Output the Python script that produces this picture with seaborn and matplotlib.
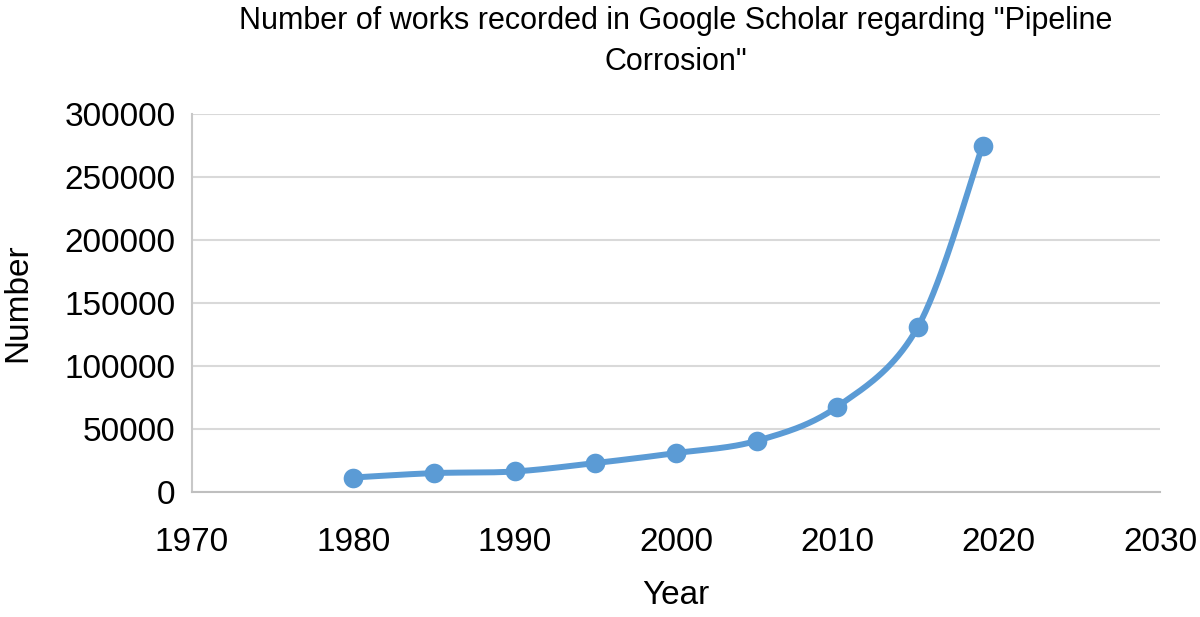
import numpy as np
import pandas as pd
import matplotlib
matplotlib.use("Agg")
import matplotlib.pyplot as plt
import seaborn as sns

years = [1980, 1985, 1990, 1995, 2000, 2005, 2010, 2015, 2019]
counts = [11500, 15000, 16300, 23000, 30900, 40600, 67700, 131200, 274600]
x_ticks = [1970, 1980, 1990, 2000, 2010, 2020, 2030]
y_ticks = [0, 50000, 100000, 150000, 200000, 250000, 300000]
title = 'Number of works recorded in Google Scholar regarding "Pipeline\nCorrosion"'

color = "#5B9BD5"

def smooth(xs, ys, n=40):
    # Excel-style smoothed line: cubic Bezier segments with Catmull-Rom tangents
    P = np.column_stack([xs, ys]).astype(float)
    ext = np.vstack([P[0], P, P[-1]])
    out = []
    t = np.linspace(0, 1, n)[:, None]
    for i in range(len(P) - 1):
        p0 = ext[i + 1]; p3 = ext[i + 2]
        c1 = p0 + (ext[i + 2] - ext[i]) / 6.0
        c2 = p3 - (ext[i + 3] - ext[i + 1]) / 6.0
        seg = (1 - t) ** 3 * p0 + 3 * (1 - t) ** 2 * t * c1 + 3 * (1 - t) * t ** 2 * c2 + t ** 3 * p3
        out.append(seg if i == 0 else seg[1:])
    S = np.vstack(out)
    return S[:, 0], S[:, 1]

sns.set_theme(style="white")
plt.rcParams['font.family'] = ['Liberation Sans', 'DejaVu Sans']
plt.rcParams['text.color'] = 'black'

fig = plt.figure(figsize=(12, 6.17), dpi=100)
ax = fig.add_axes([192 / 1200, 1 - 492 / 617, (1160 - 192) / 1200, (492 - 114) / 617])

sx, sy = smooth(years, counts)
df_line = pd.DataFrame({"Year": sx, "Number": sy})
df_pts = pd.DataFrame({"Year": years, "Number": counts})
sns.lineplot(data=df_line, x="Year", y="Number", ax=ax, color=color, linewidth=4.3, sort=False, zorder=3)
sns.scatterplot(data=df_pts, x="Year", y="Number", ax=ax, color=color, s=200, edgecolor=color, linewidth=0, zorder=4)

ax.set_xlim(1970, 2030)
ax.set_ylim(0, 300000)
ax.set_xticks(x_ticks)
ax.set_yticks(y_ticks)
ax.set_xticklabels([str(v) for v in x_ticks], fontsize=24)
ax.set_yticklabels([str(v) for v in y_ticks], fontsize=24)
ax.tick_params(axis="x", length=0, colors="black", pad=25)
ax.tick_params(axis="y", length=0, labelcolor="black", pad=12)
ax.yaxis.grid(True, color="#D9D9D9", linewidth=1.5)
ax.set_axisbelow(True)
for s in ["top", "right"]:
    ax.spines[s].set_visible(False)
ax.spines["bottom"].set_color("#BFBFBF")
ax.spines["bottom"].set_linewidth(1.5)
ax.spines["left"].set_color("#C8C8C8")
ax.spines["left"].set_linewidth(1.5)

ax.set_xlabel("Year", fontsize=24, labelpad=16, color="black")
ax.set_ylabel("Number", fontsize=24, labelpad=22, color="black")
ax.set_title(title, fontsize=22, pad=32, linespacing=1.45, color="black")

fig.savefig("out.png", dpi=100)
